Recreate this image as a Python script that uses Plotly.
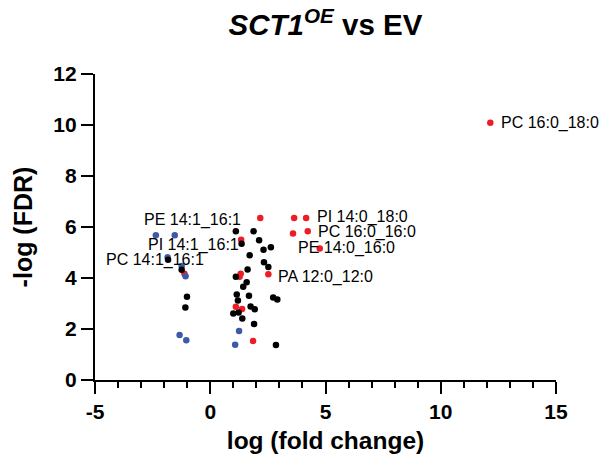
import plotly.graph_objects as go

# ---------------- data ----------------
red_x = [2.17, 3.64, 4.16, 3.59, 4.23, 4.75, 1.34, -1.12, 1.32, 1.27, 2.52, 1.11, 1.38, 1.86, 12.15]
red_y = [6.35, 6.35, 6.35, 5.75, 5.83, 5.16, 5.50, 4.17, 4.17, 4.05, 4.15, 2.87, 2.78, 1.53, 10.09]

blue_x = [-2.36, -1.54, -1.85, -1.24, -1.07, -1.33, -1.04, 1.25, 1.08]
blue_y = [5.68, 5.68, 4.81, 4.47, 4.07, 1.76, 1.56, 1.92, 1.38]

black_x = [1.11, 1.88, 1.36, 2.12, 2.31, 2.63, 1.71, 2.33, 2.52, 1.62, 1.11, 1.58, 1.43,
           -1.83, -1.24, -1.01, -1.08, 1.15, 1.68, 1.20, 1.75, 1.93, 1.23, 1.00, 1.39,
           1.90, 2.73, 2.91, 2.85]
black_y = [5.83, 5.83, 5.34, 5.48, 5.11, 5.21, 4.89, 4.62, 4.43, 4.33, 4.05, 3.83, 3.66,
           4.72, 4.32, 3.26, 2.84, 3.35, 3.30, 3.12, 2.88, 2.77, 2.65, 2.61, 2.41,
           2.20, 3.24, 3.16, 1.37]

label_names = ["PC 16:0_18:0", "PI 14:0_18:0", "PC 16:0_16:0", "PE 14:0_16:0",
               "PA 12:0_12:0", "PE 14:1_16:1", "PI 14:1_16:1", "PC 14:1_16:1"]
label_group = ["red", "red", "red", "red", "red", "blue", "blue", "blue"]
label_index = [14, 2, 4, 5, 10, 0, 1, 2]

x_tickvals = [-5, 0, 5, 10, 15]
y_tickvals = [0, 2, 4, 6, 8, 10, 12]

# ---------------- styles ----------------
RED = "#ee1c25"
BLUE = "#3c5aa8"
BLACK = "#000000"
FONT = "Arial, Liberation Sans, sans-serif"
MSIZE = 6.5
# pixel offsets of each label's left edge / vertical centre from its point
label_offsets = [(10, 0), (10, 1), (9, -1), (-23, 0), (9, -3), (-12.5, 15), (-28, -10), (-62.5, -3)]

groups = {"red": (red_x, red_y), "blue": (blue_x, blue_y), "black": (black_x, black_y)}

fig = go.Figure()
for name, col in [("red", RED), ("blue", BLUE), ("black", BLACK)]:
    gx, gy = groups[name]
    fig.add_trace(go.Scatter(x=gx, y=gy, mode="markers",
                             marker=dict(color=col, size=MSIZE, line=dict(width=0)),
                             showlegend=False, hoverinfo="skip", cliponaxis=False))

for txt, grp, idx, (dx, dy) in zip(label_names, label_group, label_index, label_offsets):
    gx, gy = groups[grp]
    fig.add_annotation(x=gx[idx], y=gy[idx], xref="x", yref="y", text=txt,
                       showarrow=False, xanchor="left", yanchor="middle",
                       xshift=dx, yshift=dy, borderpad=0,
                       font=dict(family=FONT, size=16, color="#000"))

# page body adds an 8px margin, so the figure is laid out 8px smaller
fig.update_layout(
    width=601, height=461,
    margin=dict(l=87, r=53, t=66, b=88.5, autoexpand=False),
    paper_bgcolor="white", plot_bgcolor="white",
    font=dict(family=FONT, color="#000"),
    title=dict(text="<b><i>SCT1<sup>OE</sup></i> vs EV</b>",
               x=0.5, xref="paper", xanchor="center",
               y=1 - 17 / 461, yref="container", yanchor="middle",
               font=dict(family=FONT, size=29.5, color="#000")),
    showlegend=False,
)

fig.update_xaxes(range=[-5, 15], tickvals=x_tickvals, ticktext=[str(v) for v in x_tickvals],
                 showline=True, linecolor="#000", linewidth=2.2, mirror=False,
                 ticks="outside", ticklen=12, tickwidth=2.2, tickcolor="#000",
                 minor=dict(dtick=1, tick0=0, ticks="outside", ticklen=6, tickwidth=2.2, tickcolor="#000", showgrid=False),
                 showgrid=False, zeroline=False,
                 tickfont=dict(family=FONT, size=21, color="#000", weight="bold"),
                 title=dict(text="<b>log (fold change)</b>", font=dict(family=FONT, size=24.5, color="#000"), standoff=10))

fig.update_yaxes(range=[0, 12], tickvals=y_tickvals, ticktext=[str(v) for v in y_tickvals],
                 showline=True, linecolor="#000", linewidth=2.2, mirror=False,
                 ticks="outside", ticklen=12, tickwidth=2.2, tickcolor="#000",
                 showgrid=False, zeroline=False,
                 tickfont=dict(family=FONT, size=21, color="#000", weight="bold"),
                 title=dict(text="<b>-log (FDR)</b>", font=dict(family=FONT, size=25, color="#000"), standoff=14))

fig.write_html("out.html")
